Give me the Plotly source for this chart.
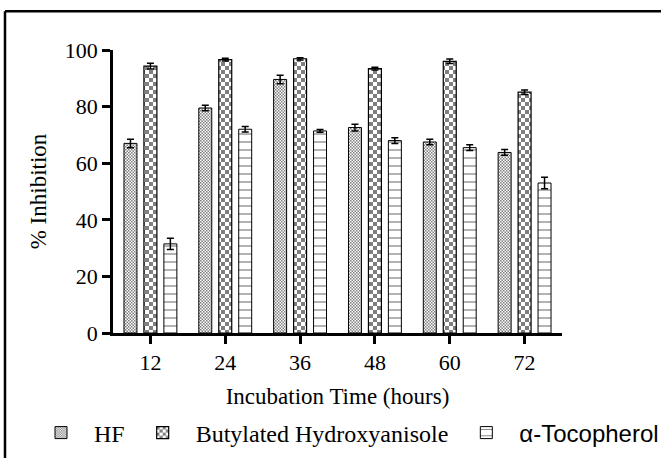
import plotly.graph_objects as go

# ---- data ----
hours = ["12", "24", "36", "48", "60", "72"]
hf = [67.0, 79.5, 89.6, 72.6, 67.5, 63.8]
hf_err = [1.5, 1.0, 1.5, 1.2, 1.0, 1.0]
bha = [94.3, 96.6, 96.9, 93.4, 96.0, 85.1]
bha_err = [1.0, 0.5, 0.4, 0.5, 0.8, 0.8]
toco = [31.5, 72.0, 71.4, 68.0, 65.5, 53.0]
toco_err = [2.0, 1.0, 0.5, 1.0, 1.0, 2.0]

SERIF = "Liberation Serif, Times New Roman, serif"
SANS = "Liberation Sans, Arial, sans-serif"

W, H = 661, 458
ML, MR, MT, MB = 113, 0, 50, 125
PLOT_RIGHT = 562  # pixel where the x axis ends

def err(vals):
    return dict(type="data", array=vals, visible=True, color="black",
                thickness=1.5, width=3.5)

fig = go.Figure()
fig.add_trace(go.Bar(
    name="HF", x=hours, y=hf, error_y=err(hf_err),
    marker=dict(color="white", line=dict(color="black", width=1),
                pattern=dict(path="M0,0H1.5V1.5H0Z M1.5,1.5H3V3H1.5Z", size=3,
                             fgcolor="black", bgcolor="white",
                             fillmode="overlay", solidity=1)),
))
fig.add_trace(go.Bar(
    name="Butylated Hydroxyanisole", x=hours, y=bha, error_y=err(bha_err),
    marker=dict(color="white", line=dict(color="black", width=1.2),
                pattern=dict(path="M0,0H4V4H0Z M4,4H8V8H4Z", size=8,
                             fgcolor="black", bgcolor="white",
                             fillmode="overlay", solidity=1)),
))
fig.add_trace(go.Bar(
    name="<span style='font-family:Liberation Sans, Arial, sans-serif'>\u03b1-Tocopherol</span>",
    x=hours, y=toco, error_y=err(toco_err),
    marker=dict(color="white", line=dict(color="black", width=1),
                pattern=dict(shape="-", size=8, solidity=0.15,
                             fgcolor="black", bgcolor="white",
                             fillmode="overlay")),
))

pw = W - ML - MR
ph = H - MT - MB

def px_x(p):
    return (p - ML) / pw

def px_y(p):
    return (H - MB - p) / ph

frame_x, frame_y = 5, 11.3
fig.add_shape(type="line", xref="paper", yref="paper",
              x0=px_x(frame_x), x1=px_x(W + 20), y0=px_y(frame_y), y1=px_y(frame_y),
              line=dict(color="black", width=2.5))
fig.add_shape(type="line", xref="paper", yref="paper",
              x0=px_x(frame_x), x1=px_x(frame_x), y0=px_y(frame_y), y1=px_y(H + 20),
              line=dict(color="black", width=2.5))

fig.update_layout(
    width=W, height=H,
    margin=dict(l=ML, r=MR, t=MT, b=MB, autoexpand=False),
    paper_bgcolor="white", plot_bgcolor="white",
    barmode="group", bargap=0.2, bargroupgap=0.35,
    font=dict(family=SERIF, size=22, color="black"),
    showlegend=True,
    legend=dict(orientation="h", x=px_x(28), xanchor="left",
                y=px_y(433), yanchor="middle", itemwidth=56,
                font=dict(family=SERIF, size=24, color="black"),
                bgcolor="rgba(0,0,0,0)", traceorder="normal"),
)
fig.update_xaxes(
    type="category", range=[-0.5, 5.5], domain=[0, px_x(PLOT_RIGHT)],
    showline=True, linecolor="black", linewidth=2.5,
    ticks="outside", ticklen=8, tickwidth=2.5, tickcolor="black",
    showgrid=False, zeroline=False,
    tickfont=dict(family=SERIF, size=22),
    title=dict(text="Incubation Time (hours)", standoff=14,
               font=dict(family=SERIF, size=23)),
)
fig.update_yaxes(
    range=[0, 100], tickvals=[0, 20, 40, 60, 80, 100],
    showline=True, linecolor="black", linewidth=2.5,
    ticks="outside", ticklen=8, tickwidth=2.5, tickcolor="black",
    showgrid=False, zeroline=False,
    tickfont=dict(family=SERIF, size=22),
    title=dict(text="% Inhibition", standoff=12,
               font=dict(family=SERIF, size=23)),
)

fig.write_html("out.html", config={"displayModeBar": False},
               post_script="document.body.style.margin='0px';document.body.style.overflow='hidden';")
